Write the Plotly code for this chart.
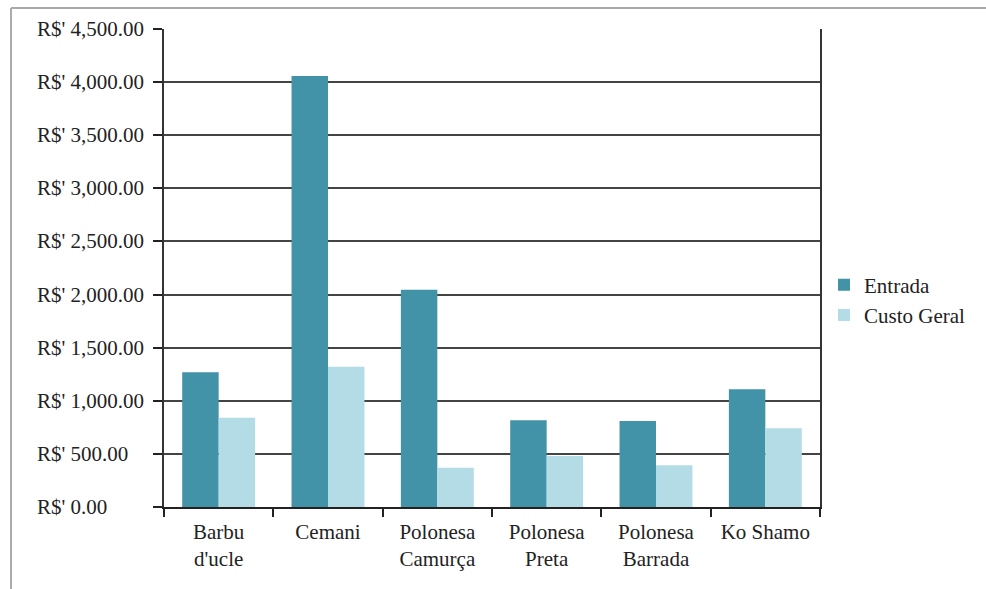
import plotly.graph_objects as go

categories = ["Barbu<br>d'ucle", "Cemani", "Polonesa<br>Camurça", "Polonesa<br>Preta", "Polonesa<br>Barrada", "Ko Shamo"]
entrada = [1268, 4057, 2045, 816, 810, 1108]
custo_geral = [840, 1321, 370, 480, 392, 741]
y_ticks = [0, 500, 1000, 1500, 2000, 2500, 3000, 3500, 4000, 4500]
y_ticktext = ["R$' " + f"{v:,.2f}" for v in y_ticks]

FONT = "Liberation Serif, Times New Roman, serif"
FS = 21

fig = go.Figure()
fig.add_trace(go.Bar(name="Entrada", x=categories, y=entrada, marker=dict(color="#4292a8", line=dict(width=0))))
fig.add_trace(go.Bar(name="Custo Geral", x=categories, y=custo_geral, marker=dict(color="#b4dce6", line=dict(width=0))))

L, R, T, B = 164, 166, 29, 82
W, H = 986, 589
pw, ph = W - L - R, H - T - B

# left-aligned y tick labels (as in the reference)
annotations = [
    dict(xref="paper", yref="y", x=(35 - L) / pw, y=v, text=t, showarrow=False,
         xanchor="left", yanchor="middle", font=dict(family=FONT, size=FS, color="#222"))
    for v, t in zip(y_ticks, y_ticktext)
]

fig.update_layout(
    width=W, height=H,
    margin=dict(l=L, r=R, t=T, b=B),
    paper_bgcolor="white", plot_bgcolor="white",
    barmode="group", bargap=0.333, bargroupgap=0,
    font=dict(family=FONT, size=FS, color="#222"),
    legend=dict(x=(824 - L) / pw, y=(507 - 300) / ph, xanchor="left", yanchor="middle",
                font=dict(family=FONT, size=FS, color="#222"), tracegroupgap=0,
                itemwidth=30, bgcolor="rgba(0,0,0,0)"),
    xaxis=dict(type="category", tickson="boundaries", ticks="outside", ticklen=8, tickwidth=1.5,
               tickcolor="#222", showline=True, linecolor="#222", linewidth=1.5, showgrid=False,
               ticklabelstandoff=5,
               tickfont=dict(family=FONT, size=FS, color="#222")),
    yaxis=dict(range=[0, 4500], tickmode="array", tickvals=y_ticks, showticklabels=False,
               ticks="outside", ticklen=9, tickwidth=1.5, tickcolor="#222",
               showline=True, linecolor="#333", linewidth=1.5, mirror=True,
               showgrid=True, gridcolor="#444", gridwidth=1.5, zeroline=False),
    annotations=annotations,
    shapes=[
        dict(type="line", xref="paper", yref="paper", x0=(11 - L) / pw, x1=(11 - L) / pw,
             y0=1 + (T - 8) / ph, y1=-(H - T - ph + 10) / ph, line=dict(color="#aaa", width=2)),
        dict(type="line", xref="paper", yref="paper", x0=(11 - L) / pw, x1=(W + 10 - L) / pw,
             y0=1 + (T - 8) / ph, y1=1 + (T - 8) / ph, line=dict(color="#aaa", width=2)),
    ],
)

fig.write_html("out.html")
